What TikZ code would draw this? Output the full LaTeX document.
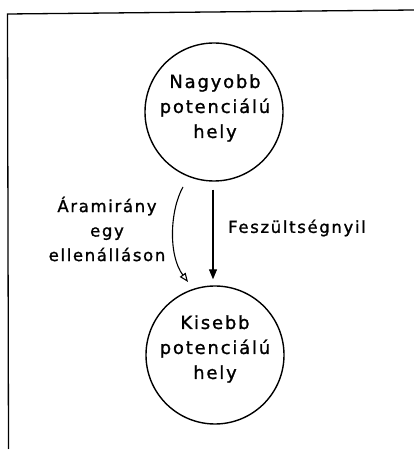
\documentclass[tikz,border=0pt]{standalone}
\usepackage{fontspec}
\setmainfont[LetterSpace=10,FakeBold=1.2]{DejaVu Sans}
\usetikzlibrary{arrows.meta}
\begin{document}
\begin{tikzpicture}[x=1pt,y=1pt,
  place/.style={circle,draw,line width=1.4pt,minimum size=138pt,inner sep=0pt},
  txt/.style={align=center,inner sep=0pt,font=\fontsize{18}{25}\selectfont},
  lbl/.style={align=center,inner sep=0pt,font=\fontsize{16.5}{24.5}\selectfont},
  conn/.style={line width=1.1pt}]
\useasboundingbox (0,0) rectangle (414,450);
\draw[line width=1.3pt] (8.5,1) -- (7.5,436) -- (414,440);
\node[place] (top) at (214,338) {};
\node[place] (bot) at (215,95) {};
\node[txt] (toptxt) at (215,342) {Nagyobb\\potenciálú\\hely};
\node[txt] (bottxt) at (215,101) {Kisebb\\potenciálú\\hely};
\draw[conn,-{Triangle[length=10pt,width=8pt]},shorten <=8pt,shorten >=6pt]
  (top.south -| 213,0) -- (bot.north -| 213,0);
\coordinate (cs) at (183,263);
\coordinate (ce) at (188,168);
\draw[conn,-{Triangle[open,length=9pt,width=7pt]}]
  (cs) .. controls (170,240) and (168,195) .. (ce);
\node[lbl,anchor=center] (aram) at (107,221) {Áramirány\\egy\\ellenálláson};
\node[lbl,anchor=west] (fesz) at (228,222) {Feszültségnyil};
\end{tikzpicture}
\end{document}
